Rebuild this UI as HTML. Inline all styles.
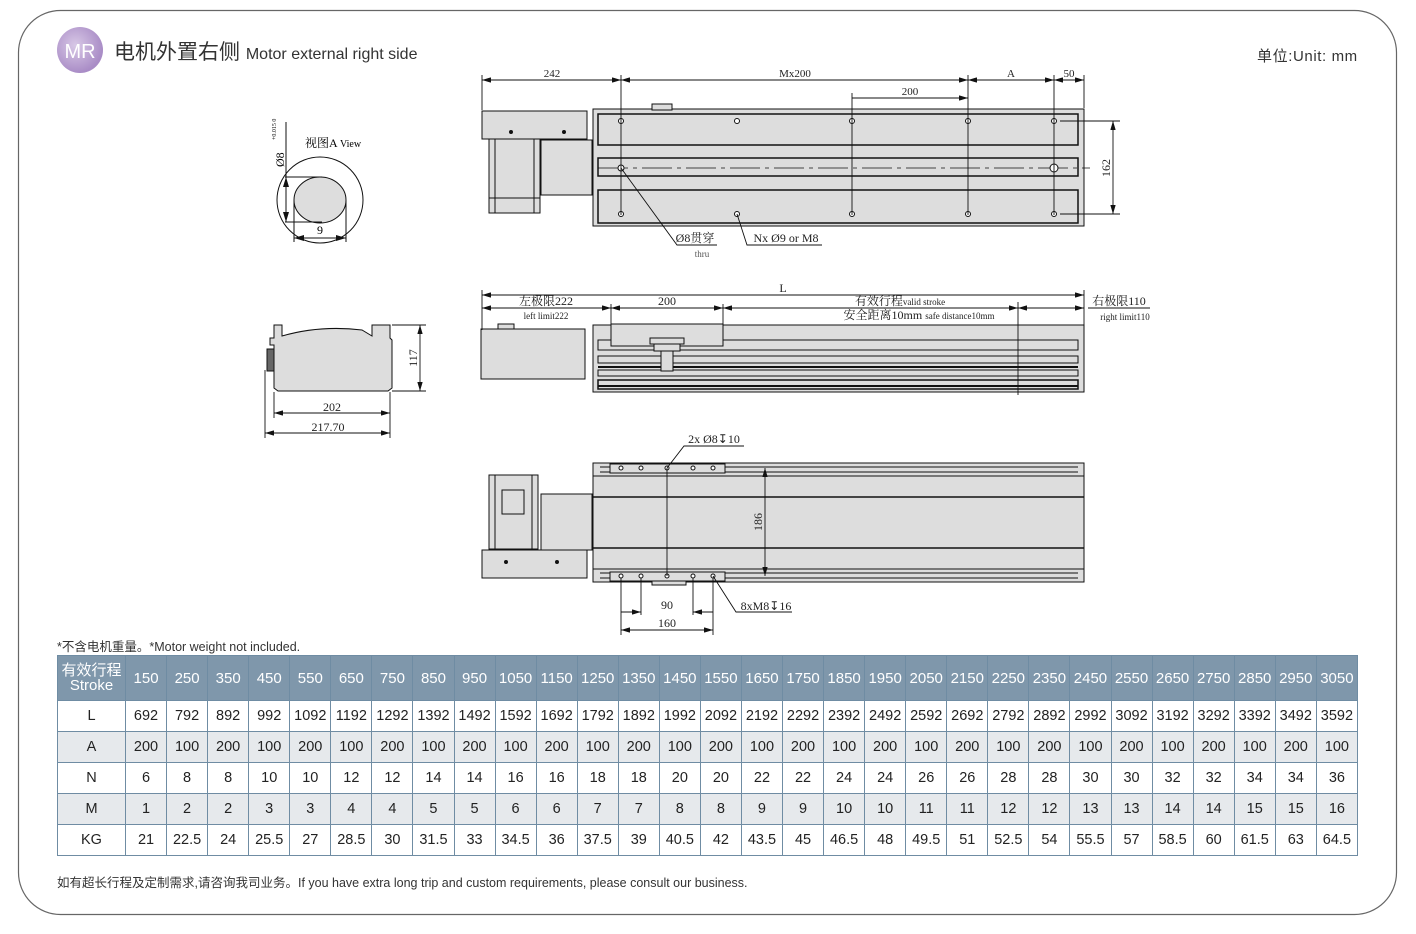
<!DOCTYPE html>
<html><head><meta charset="utf-8"><style>
html,body{margin:0;padding:0;background:#fff;}
body{width:1416px;height:934px;position:relative;overflow:hidden;font-family:"Liberation Sans","Noto Sans CJK SC",sans-serif;}
svg{position:absolute;left:0;top:0;}
.t{position:absolute;white-space:nowrap;color:#333;}
table{position:absolute;left:57px;top:655px;width:1301px;border-collapse:collapse;font-family:"Liberation Sans","Noto Sans CJK SC",sans-serif;font-size:14.5px;color:#222;table-layout:fixed;}
td{border:1px solid #6f8ca3;text-align:center;padding:0;height:30px;}
tr.h td{background:#7f97ab;color:#fff;height:44px;font-size:15px;}
tr.g td{background:#e6e9ec;}
td.f{width:67px;}
</style></head><body>
<svg width="1416" height="934" viewBox="0 0 1416 934" font-family="Liberation Serif, Noto Serif CJK SC, serif">
<defs>
<radialGradient id="pg" cx="40%" cy="40%" r="60%"><stop offset="0" stop-color="#d8c8e6"/><stop offset="1" stop-color="#a98cc6"/></radialGradient>
<marker id="a" viewBox="0 0 10 6" refX="10" refY="3" markerWidth="10" markerHeight="6" orient="auto-start-reverse"><path d="M0,0L10,3L0,6z" fill="#111"/></marker>
</defs>
<rect x="18.5" y="10.5" width="1378" height="904" rx="42" fill="none" stroke="#666" stroke-width="1.2"/>
<circle cx="80" cy="50" r="23" fill="url(#pg)"/>
<text x="80" y="58" font-family="Liberation Sans" font-size="20" fill="#fff" text-anchor="middle">MR</text>
<g stroke="#111" stroke-width="1" fill="#ddd">
<rect x="482" y="111" width="105" height="28"/>
<rect x="489" y="139" width="51" height="74"/>
<line x1="495" y1="139" x2="495" y2="213"/><line x1="534" y1="139" x2="534" y2="213"/><line x1="489" y1="198" x2="540" y2="198"/>
<rect x="541" y="140" width="51" height="55"/>
<rect x="593" y="109" width="491" height="117"/>
<rect x="598" y="114" width="480" height="31" stroke-width="1.5"/>
<rect x="598" y="158" width="480" height="18" stroke-width="1.5"/>
<rect x="598" y="190" width="480" height="33" stroke-width="1.5"/>
<rect x="652" y="104" width="20" height="6"/>
<line x1="598" y1="168" x2="1090" y2="168" stroke-dasharray="30,5,4,5" stroke-width="0.8"/>
</g>
<g fill="#fff" stroke="#111">
<circle cx="621" cy="121" r="2.5"/><circle cx="737" cy="121" r="2.5"/><circle cx="852" cy="121" r="2.5"/><circle cx="968" cy="121" r="2.5"/><circle cx="1054" cy="121" r="2.5"/>
<circle cx="621" cy="214" r="2.5"/><circle cx="737" cy="214" r="2.5"/><circle cx="852" cy="214" r="2.5"/><circle cx="968" cy="214" r="2.5"/><circle cx="1054" cy="214" r="2.5"/>
<circle cx="621" cy="168" r="3"/><circle cx="1054" cy="168" r="4"/>
<circle cx="511" cy="132" r="1.5" fill="#111"/><circle cx="564" cy="132" r="1.5" fill="#111"/>
</g>
<g stroke="#111" stroke-width="0.9" fill="none">
<line x1="482" y1="75" x2="482" y2="110"/><line x1="621" y1="75" x2="621" y2="215"/><line x1="968" y1="75" x2="968" y2="215"/><line x1="1054" y1="75" x2="1054" y2="215"/><line x1="1084" y1="75" x2="1084" y2="108"/><line x1="852" y1="93" x2="852" y2="215"/>
<line x1="482" y1="80" x2="621" y2="80" marker-start="url(#a)" marker-end="url(#a)"/>
<line x1="621" y1="80" x2="968" y2="80" marker-start="url(#a)" marker-end="url(#a)"/>
<line x1="968" y1="80" x2="1054" y2="80" marker-start="url(#a)" marker-end="url(#a)"/>
<line x1="1054" y1="80" x2="1084" y2="80" marker-start="url(#a)" marker-end="url(#a)"/>
<line x1="852" y1="98" x2="968" y2="98" marker-end="url(#a)"/>
<line x1="1060" y1="121" x2="1120" y2="121"/><line x1="1060" y1="214" x2="1120" y2="214"/>
<line x1="1113" y1="121" x2="1113" y2="214" marker-start="url(#a)" marker-end="url(#a)"/>
<polyline points="621,168 677,245 717,245"/><polyline points="737,214 747,245 822,245"/>
</g>
<g font-size="11" fill="#222" text-anchor="middle">
<text x="552" y="77">242</text><text x="795" y="77">Mx200</text><text x="1011" y="77">A</text><text x="1069" y="77">50</text><text x="910" y="95">200</text>
<text transform="translate(1110,168) rotate(-90)" font-size="12">162</text>
<text x="695" y="242" font-size="12">Ø8贯穿</text><text x="702" y="257" font-size="9" fill="#555">thru</text>
<text x="786" y="242" font-size="12">Nx Ø9 or M8</text>
</g>
<g stroke="#111" stroke-width="1" fill="#ddd">
<rect x="481" y="329" width="104" height="50"/>
<rect x="498" y="324" width="16" height="5"/>
<rect x="593" y="325" width="491" height="67"/>
<rect x="598" y="340" width="480" height="10"/>
<rect x="598" y="356" width="480" height="7"/><line x1="598" y1="367" x2="1078" y2="367" stroke-width="2"/>
<rect x="598" y="370" width="480" height="6"/><rect x="598" y="380" width="480" height="9" stroke-width="1.5"/>
<line x1="598" y1="386" x2="1078" y2="386" stroke-width="2"/>
<rect x="611" y="324" width="112" height="22"/>
<rect x="650" y="338" width="34" height="6"/><rect x="654" y="344" width="26" height="7"/><rect x="661" y="351" width="12" height="20"/>
</g>
<g stroke="#111" stroke-width="0.9" fill="none">
<line x1="482" y1="290" x2="482" y2="330"/><line x1="1084" y1="290" x2="1084" y2="330"/><line x1="611" y1="304" x2="611" y2="325"/><line x1="723" y1="304" x2="723" y2="325"/><line x1="1018" y1="302" x2="1018" y2="395"/>
<line x1="482" y1="295" x2="1084" y2="295" marker-start="url(#a)" marker-end="url(#a)"/>
<line x1="482" y1="308" x2="611" y2="308" marker-start="url(#a)" marker-end="url(#a)"/>
<line x1="611" y1="308" x2="723" y2="308" marker-start="url(#a)" marker-end="url(#a)"/>
<line x1="723" y1="308" x2="1018" y2="308" marker-start="url(#a)" marker-end="url(#a)"/>
<line x1="1018" y1="308" x2="1084" y2="308" marker-start="url(#a)" marker-end="url(#a)"/>
<line x1="1088" y1="308" x2="1150" y2="308"/>
</g>
<g font-size="12" fill="#222" text-anchor="middle">
<text x="783" y="292">L</text>
<text x="546" y="305">左极限222</text><text x="546" y="319" font-size="9">left limit222</text>
<text x="667" y="305">200</text>
<text x="900" y="305">有效行程<tspan font-size="9">valid stroke</tspan></text>
<text x="919" y="319">安全距离10mm <tspan font-size="9">safe distance10mm</tspan></text>
<text x="1119" y="305">右极限110</text><text x="1125" y="320" font-size="9">right limit110</text>
</g>
<g stroke="#111" stroke-width="1" fill="#ddd">
<rect x="489" y="475" width="49" height="74"/>
<line x1="495" y1="475" x2="495" y2="549"/><line x1="532" y1="475" x2="532" y2="549"/>
<rect x="502" y="490" width="22" height="24"/>
<rect x="541" y="494" width="51" height="56"/>
<rect x="482" y="550" width="105" height="28"/>
<rect x="593" y="463" width="491" height="119"/>
<line x1="593" y1="476" x2="1084" y2="476"/><line x1="593" y1="497" x2="1084" y2="497" stroke-width="1.6"/><line x1="593" y1="548" x2="1084" y2="548" stroke-width="1.6"/><line x1="593" y1="569" x2="1084" y2="569"/>
<line x1="600" y1="467" x2="1078" y2="467"/><line x1="600" y1="472" x2="1078" y2="472"/><line x1="600" y1="573" x2="1078" y2="573"/><line x1="600" y1="578" x2="1078" y2="578"/>
<rect x="610" y="464" width="115" height="9"/><rect x="610" y="572" width="115" height="9"/>
<rect x="652" y="581" width="34" height="4"/>
</g>
<g fill="#fff" stroke="#111">
<circle cx="621" cy="468" r="2"/><circle cx="641" cy="468" r="2"/><circle cx="667" cy="468" r="2"/><circle cx="693" cy="468" r="2"/><circle cx="713" cy="468" r="2"/>
<circle cx="621" cy="576" r="2"/><circle cx="641" cy="576" r="2"/><circle cx="667" cy="576" r="2"/><circle cx="693" cy="576" r="2"/><circle cx="713" cy="576" r="2"/>
<circle cx="506" cy="562" r="1.5" fill="#111"/><circle cx="557" cy="562" r="1.5" fill="#111"/>
</g>
<g stroke="#111" stroke-width="0.9" fill="none">
<line x1="667" y1="468" x2="667" y2="576"/>
<line x1="765" y1="468" x2="765" y2="576" marker-start="url(#a)" marker-end="url(#a)"/>
<polyline points="667,468 684,446 744,446"/><polyline points="713,576 736,612 792,612"/>
<line x1="621" y1="578" x2="621" y2="635"/><line x1="641" y1="578" x2="641" y2="615"/><line x1="693" y1="578" x2="693" y2="615"/><line x1="713" y1="578" x2="713" y2="635"/>
<line x1="621" y1="612" x2="641" y2="612" marker-end="url(#a)"/><line x1="713" y1="612" x2="693" y2="612" marker-end="url(#a)"/>
<line x1="621" y1="630" x2="713" y2="630" marker-start="url(#a)" marker-end="url(#a)"/>
</g>
<g font-size="12" fill="#222" text-anchor="middle">
<text x="714" y="443">2x Ø8↧10</text><text x="667" y="609">90</text><text x="667" y="627">160</text><text x="766" y="610">8xM8↧16</text>
<text transform="translate(762,522) rotate(-90)">186</text>
</g>
<g stroke="#111" stroke-width="1" fill="none">
<circle cx="320" cy="200" r="43"/>
<ellipse cx="320" cy="200" rx="26" ry="23" fill="#ddd"/>
<line x1="285" y1="177" x2="322" y2="177"/><line x1="285" y1="222" x2="322" y2="222"/>
<line x1="286" y1="122" x2="286" y2="222"/>
<line x1="286" y1="177" x2="286" y2="222" marker-start="url(#a)" marker-end="url(#a)"/>
<line x1="294" y1="200" x2="294" y2="242"/><line x1="346" y1="200" x2="346" y2="242"/>
<line x1="294" y1="238" x2="346" y2="238" marker-start="url(#a)" marker-end="url(#a)"/>
</g>
<text x="320" y="234" font-size="12" text-anchor="middle">9</text>
<text x="305" y="147" font-size="12">视图A <tspan font-size="10">View</tspan></text>
<text transform="translate(284,167) rotate(-90)" font-size="12">Ø8</text>
<text transform="translate(276,140) rotate(-90)" font-size="6">+0.015 0</text>
<g stroke="#111" stroke-width="1" fill="#ddd">
<path d="M274,325 L282,325 L282,336 Q320,325 362,330 L372,336 L372,325 L390,325 L390,338 L392,340 L392,388 L388,391 L278,391 L274,388 L274,345 L270,345 L270,338 L274,338 Z"/>
<rect x="267" y="349" width="7" height="22" fill="#666"/>
</g>
<g stroke="#111" stroke-width="0.9" fill="none">
<line x1="392" y1="325" x2="426" y2="325"/><line x1="392" y1="391" x2="426" y2="391"/>
<line x1="420" y1="325" x2="420" y2="391" marker-start="url(#a)" marker-end="url(#a)"/>
<line x1="274" y1="392" x2="274" y2="418"/><line x1="390" y1="392" x2="390" y2="438"/><line x1="265" y1="370" x2="265" y2="438"/>
<line x1="274" y1="413" x2="390" y2="413" marker-start="url(#a)" marker-end="url(#a)"/>
<line x1="265" y1="433" x2="390" y2="433" marker-start="url(#a)" marker-end="url(#a)"/>
</g>
<g font-size="12" text-anchor="middle" fill="#222">
<text x="332" y="411">202</text><text x="328" y="431">217.70</text>
<text transform="translate(417,358) rotate(-90)">117</text>
</g>
</svg>
<div class="t" style="left:114px;top:36px;font-size:21px;color:#333;">电机外置右侧 <span style="font-size:16px;">Motor external right side</span></div>
<div class="t" style="left:1257px;top:45px;font-size:15px;letter-spacing:0.6px;">单位:Unit: mm</div>
<div class="t" style="left:57px;top:636px;font-size:12.5px;">*不含电机重量。*Motor weight not included.</div>
<div class="t" style="left:57px;top:872px;font-size:12.5px;">如有超长行程及定制需求,请咨询我司业务。If you have extra long trip and custom requirements, please consult our business.</div>
<table>
<tr class="h"><td class="f" style="line-height:15px">有效行程<br>Stroke</td><td>150</td><td>250</td><td>350</td><td>450</td><td>550</td><td>650</td><td>750</td><td>850</td><td>950</td><td>1050</td><td>1150</td><td>1250</td><td>1350</td><td>1450</td><td>1550</td><td>1650</td><td>1750</td><td>1850</td><td>1950</td><td>2050</td><td>2150</td><td>2250</td><td>2350</td><td>2450</td><td>2550</td><td>2650</td><td>2750</td><td>2850</td><td>2950</td><td>3050</td></tr>
<tr><td>L</td><td>692</td><td>792</td><td>892</td><td>992</td><td>1092</td><td>1192</td><td>1292</td><td>1392</td><td>1492</td><td>1592</td><td>1692</td><td>1792</td><td>1892</td><td>1992</td><td>2092</td><td>2192</td><td>2292</td><td>2392</td><td>2492</td><td>2592</td><td>2692</td><td>2792</td><td>2892</td><td>2992</td><td>3092</td><td>3192</td><td>3292</td><td>3392</td><td>3492</td><td>3592</td></tr>
<tr class="g"><td>A</td><td>200</td><td>100</td><td>200</td><td>100</td><td>200</td><td>100</td><td>200</td><td>100</td><td>200</td><td>100</td><td>200</td><td>100</td><td>200</td><td>100</td><td>200</td><td>100</td><td>200</td><td>100</td><td>200</td><td>100</td><td>200</td><td>100</td><td>200</td><td>100</td><td>200</td><td>100</td><td>200</td><td>100</td><td>200</td><td>100</td></tr>
<tr><td>N</td><td>6</td><td>8</td><td>8</td><td>10</td><td>10</td><td>12</td><td>12</td><td>14</td><td>14</td><td>16</td><td>16</td><td>18</td><td>18</td><td>20</td><td>20</td><td>22</td><td>22</td><td>24</td><td>24</td><td>26</td><td>26</td><td>28</td><td>28</td><td>30</td><td>30</td><td>32</td><td>32</td><td>34</td><td>34</td><td>36</td></tr>
<tr class="g"><td>M</td><td>1</td><td>2</td><td>2</td><td>3</td><td>3</td><td>4</td><td>4</td><td>5</td><td>5</td><td>6</td><td>6</td><td>7</td><td>7</td><td>8</td><td>8</td><td>9</td><td>9</td><td>10</td><td>10</td><td>11</td><td>11</td><td>12</td><td>12</td><td>13</td><td>13</td><td>14</td><td>14</td><td>15</td><td>15</td><td>16</td></tr>
<tr><td>KG</td><td>21</td><td>22.5</td><td>24</td><td>25.5</td><td>27</td><td>28.5</td><td>30</td><td>31.5</td><td>33</td><td>34.5</td><td>36</td><td>37.5</td><td>39</td><td>40.5</td><td>42</td><td>43.5</td><td>45</td><td>46.5</td><td>48</td><td>49.5</td><td>51</td><td>52.5</td><td>54</td><td>55.5</td><td>57</td><td>58.5</td><td>60</td><td>61.5</td><td>63</td><td>64.5</td></tr>
</table>
</body></html>
